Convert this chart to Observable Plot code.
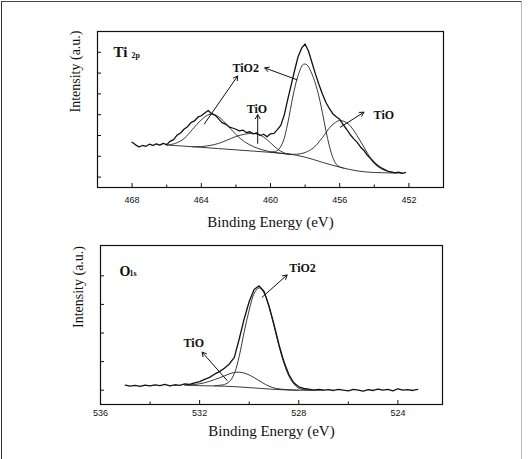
<!DOCTYPE html>
<html><head><meta charset="utf-8">
<script src="https://cdn.jsdelivr.net/npm/d3@7"></script>
<script src="https://cdn.jsdelivr.net/npm/@observablehq/plot@0.6"></script>
<style>
html,body{margin:0;padding:0;background:#fff;}
#page{position:relative;width:530px;height:459px;overflow:hidden;background:#fff;}
#border{position:absolute;left:1px;top:1px;width:519px;height:480px;border-left:1px solid #333;border-top:1px solid #444;border-right:1px solid #bbb;}
#top{position:absolute;left:0;top:0;}
#bot{position:absolute;left:0;top:235px;}
</style></head><body>
<div id="page"><div id="border"></div><div id="top"></div><div id="bot"></div></div>
<script>
// ---------- Ti 2p panel ----------
const tiXTicks = [468, 464, 460, 456, 452];
const tiXMinor = [466, 462, 458, 454];
const tiYTicks = [0.5, 1.5, 2.5, 3.5, 4.5, 5.5, 6.5];
const tiSpectrum = [
[468.0,2.18],[467.8,2.05],[467.6,1.95],[467.4,2.02],[467.2,1.98],[467.0,2.08],[466.8,2.02],[466.6,2.1],
[466.4,2.04],[466.2,2.12],[466.0,2.06],[465.8,2.22],[465.6,2.3],[465.4,2.52],[465.2,2.62],[465.0,2.8],
[464.8,2.92],[464.6,3.12],[464.4,3.2],[464.2,3.38],[464.0,3.45],[463.8,3.58],[463.6,3.7],[463.4,3.55],
[463.2,3.48],[463.0,3.3],[462.8,3.12],[462.6,3.05],[462.4,2.92],[462.2,2.86],[462.0,2.8],[461.8,2.72],
[461.6,2.76],[461.4,2.64],[461.2,2.68],[461.0,2.58],[460.8,2.62],[460.6,2.5],[460.4,2.56],[460.2,2.44],
[460.0,2.58],[459.8,2.6],[459.6,2.78],[459.4,3.0],[459.2,3.5],[459.0,4.25],[458.8,4.95],[458.6,5.65],
[458.4,6.3],[458.2,6.7],[458.0,6.9],[457.8,6.55],[457.6,6.0],[457.4,5.45],[457.2,4.95],[457.0,4.5],
[456.8,4.1],[456.6,3.8],[456.4,3.55],[456.2,3.4],[456.0,3.28],[455.8,3.02],[455.6,2.8],[455.4,2.55],
[455.2,2.35],[455.0,2.18],[454.8,1.95],[454.6,1.78],[454.4,1.55],[454.2,1.38],[454.0,1.2],[453.8,1.06],
[453.6,0.95],[453.4,0.86],[453.2,0.78],[453.0,0.74],[452.8,0.7],[452.6,0.74],[452.4,0.68],[452.2,0.72]
];
const tiBackground = [
[466.0,2.04],[465.0,1.99],[464.0,1.93],[463.0,1.87],[462.0,1.81],[461.0,1.75],[460.0,1.69],[459.0,1.61],
[458.5,1.55],[458.0,1.46],[457.5,1.34],[457.0,1.21],[456.5,1.09],[456.0,0.98],[455.5,0.88],[455.0,0.8],
[454.5,0.75],[454.0,0.72],[453.5,0.71],[453.0,0.7],[452.4,0.7]
];
const tiO2_2p12 = [
[466.0,2.04],[465.5,2.12],[465.0,2.35],[464.5,2.8],[464.0,3.25],[463.5,3.52],[463.0,3.4],[462.5,3.0],
[462.0,2.55],[461.5,2.2],[461.0,1.97],[460.5,1.82],[460.0,1.72],[459.5,1.65],[459.0,1.61]
];
const tiO_2p12 = [
[464.5,1.96],[464.0,1.97],[463.5,2.02],[463.0,2.12],[462.5,2.28],[462.0,2.45],[461.5,2.56],[461.0,2.6],
[460.5,2.48],[460.0,2.15],[459.6,1.85],[459.2,1.66],[458.8,1.58]
];
const tiO2_2p32 = [
[460.0,1.69],[459.6,1.78],[459.3,2.15],[459.0,3.1],[458.7,4.4],[458.4,5.4],[458.1,5.92],[457.9,5.9],
[457.6,5.45],[457.3,4.7],[457.0,3.6],[456.8,2.75],[456.6,2.0],[456.4,1.45],[456.2,1.12],[456.0,0.99],[455.8,0.93]
];
const tiO_2p32 = [
[459.0,1.61],[458.5,1.6],[458.0,1.68],[457.5,1.92],[457.0,2.4],[456.5,2.95],[456.0,3.22],[455.5,3.05],
[455.0,2.5],[454.5,1.8],[454.0,1.15],[453.5,0.86],[453.0,0.74],[452.6,0.71]
];
const tiArrows = [
  {x1: 463.82, y1: 3.06, x2: 461.9, y2: 5.36},
  {x1: 458.47, y1: 5.18, x2: 460.33, y2: 5.75},
  {x1: 460.74, y1: 2.12, x2: 460.74, y2: 3.5},
  {x1: 455.96, y1: 2.9, x2: 454.6, y2: 3.62}
];
const tiLabels = [
  {x: 462.2, y: 5.55, text: "TiO2"},
  {x: 461.38, y: 3.6, text: "TiO"},
  {x: 454.04, y: 3.27, text: "TiO"}
];

// ---------- O 1s panel ----------
const oXTicks = [536, 532, 528, 524];
const oXMinor = [534, 530, 526];
const oYTicks = [0.5, 1.5, 2.5, 3.5, 4.5];
const oSpectrum = [
[535.0,0.68],[534.8,0.64],[534.6,0.67],[534.4,0.63],[534.2,0.68],[534.0,0.65],[533.8,0.69],[533.6,0.66],
[533.4,0.7],[533.2,0.65],[533.0,0.69],[532.8,0.67],[532.6,0.72],[532.4,0.7],[532.2,0.76],[532.0,0.8],
[531.8,0.88],[531.6,0.95],[531.4,1.06],[531.2,1.15],[531.0,1.27],[530.8,1.42],[530.6,1.65],[530.4,2.3],
[530.2,3.0],[530.0,3.6],[529.8,4.02],[529.6,4.15],[529.4,3.95],[529.2,3.45],[529.0,2.8],[528.8,2.1],
[528.6,1.5],[528.4,1.05],[528.2,0.76],[528.0,0.62],[527.8,0.56],[527.6,0.54],[527.4,0.5],[527.2,0.53],
[527.0,0.5],[526.8,0.52],[526.6,0.49],[526.4,0.53],[526.2,0.5],[526.0,0.48],[525.8,0.53],[525.6,0.5],
[525.4,0.47],[525.2,0.52],[525.0,0.49],[524.8,0.54],[524.6,0.5],[524.4,0.53],[524.2,0.48],[524.0,0.55],
[523.8,0.5],[523.6,0.52],[523.4,0.49],[523.2,0.53]
];
const oBackground = [
[532.6,0.68],[532.0,0.66],[531.5,0.65],[531.0,0.64],[530.5,0.62],[530.0,0.59],[529.5,0.56],[529.0,0.53],
[528.5,0.51],[528.0,0.5],[527.5,0.5],[527.0,0.5]
];
const oTiO = [
[532.6,0.68],[532.2,0.7],[531.8,0.76],[531.4,0.87],[531.0,1.0],[530.7,1.1],[530.4,1.13],[530.1,1.07],
[529.8,0.94],[529.5,0.78],[529.2,0.64],[528.9,0.56],[528.5,0.52],[528.0,0.5]
];
const oTiO2 = [
[531.4,0.66],[531.0,0.7],[530.8,0.8],[530.6,1.08],[530.4,1.7],[530.2,2.55],[530.0,3.3],[529.8,3.88],
[529.6,4.08],[529.4,3.9],[529.2,3.4],[529.0,2.75],[528.8,2.05],[528.6,1.45],[528.4,1.0],[528.2,0.72],
[528.0,0.57],[527.8,0.52],[527.5,0.5]
];
const oArrows = [
  {x1: 529.48, y1: 3.75, x2: 528.47, y2: 4.53},
  {x1: 530.89, y1: 0.84, x2: 531.9, y2: 1.83}
];
const oLabels = [
  {x: 528.38, y: 4.65, text: "TiO2"},
  {x: 532.65, y: 2.01, text: "TiO"}
];

const serif = "Liberation Serif, Times New Roman, serif";
const sans = "Liberation Sans, Arial, sans-serif";

function panel({xDomain, yDomain, xTicks, xMinor, yTicks, spectrum, comps, arrows, labels,
                main, sub, tickPad, titleDy, width, height, margins, majorLen, pxPerX}) {
  const pxPerY = (height - margins.top - margins.bottom) / (yDomain[1] - yDomain[0]);
  return Plot.plot({
    width, height,
    marginLeft: margins.left, marginRight: margins.right, marginTop: margins.top, marginBottom: margins.bottom,
    x: {domain: xDomain},
    y: {domain: yDomain, axis: null},
    style: {fontFamily: serif, background: "transparent", overflow: "visible", color: "#111"},
    marks: [
      ...comps.map(c => Plot.line(c, {stroke: "#222", strokeWidth: 0.9, curve: "catmull-rom"})),
      Plot.line(spectrum, {stroke: "#111", strokeWidth: 1.3}),
      Plot.frame({stroke: "#111", strokeWidth: 1.2}),
      Plot.ruleX(xTicks, {x: d => d, y1: yDomain[0], y2: yDomain[0] + majorLen / pxPerY, stroke: "#111", strokeWidth: 1}),
      Plot.ruleX(xMinor, {x: d => d, y1: yDomain[0], y2: yDomain[0] + 2.5 / pxPerY, stroke: "#111", strokeWidth: 1}),
      Plot.ruleY(yTicks, {y: d => d, x1: xDomain[0], x2: xDomain[0] - 4 / pxPerX, stroke: "#111", strokeWidth: 1}),
      Plot.axisX({ticks: xTicks, tickSize: 0, tickPadding: tickPad, fontSize: 9, fontFamily: sans, label: null, tickFormat: d => String(d)}),
      Plot.arrow(arrows, {x1: "x1", y1: "y1", x2: "x2", y2: "y2", stroke: "#111", strokeWidth: 1, headLength: 7}),
      Plot.text(labels, {x: "x", y: "y", text: "text", textAnchor: "start", lineAnchor: "bottom", fontSize: 12, fontWeight: "bold", fontFamily: serif, fill: "#111"}),
      Plot.text([main], {frameAnchor: "top-left", dx: main.dx, dy: main.dy, text: d => d.text, textAnchor: "start", lineAnchor: "bottom", fontSize: main.size, fontWeight: "bold", fontFamily: serif, fill: "#111"}),
      Plot.text([sub], {frameAnchor: "top-left", dx: sub.dx, dy: sub.dy, text: d => d.text, textAnchor: "start", lineAnchor: "bottom", fontSize: 8, fontWeight: "bold", fontFamily: serif, fill: "#111"}),
      Plot.text(["Binding Energy (eV)"], {frameAnchor: "bottom", dy: titleDy, lineAnchor: "bottom", fontSize: 15, fontFamily: serif, fill: "#111"}),
      Plot.text(["Intensity (a.u.)"], {frameAnchor: "left", dx: -22, dy: 3, rotate: -90, fontSize: 14, fontFamily: serif, fill: "#111"})
    ]
  });
}

document.getElementById("top").appendChild(panel({
  xDomain: [470, 450], yDomain: [0, 7.5], xTicks: tiXTicks, xMinor: tiXMinor, yTicks: tiYTicks,
  spectrum: tiSpectrum, comps: [tiBackground, tiO2_2p12, tiO_2p12, tiO2_2p32, tiO_2p32],
  arrows: tiArrows, labels: tiLabels,
  main: {text: "Ti", dx: 16, dy: 25, size: 15}, sub: {text: "2p", dx: 34, dy: 26},
  tickPad: 9, titleDy: 39, width: 530, height: 235,
  margins: {left: 97, right: 87, top: 31, bottom: 48}, majorLen: 4, pxPerX: 346 / 20
}));

document.getElementById("bot").appendChild(panel({
  xDomain: [536, 522.2], yDomain: [0, 5.56], xTicks: oXTicks, xMinor: oXMinor, yTicks: oYTicks,
  spectrum: oSpectrum, comps: [oBackground, oTiO, oTiO2],
  arrows: oArrows, labels: oLabels,
  main: {text: "O", dx: 19, dy: 30, size: 14}, sub: {text: "1s", dx: 29, dy: 30},
  tickPad: 5, titleDy: 31, width: 530, height: 224,
  margins: {left: 100, right: 88, top: 10, bottom: 55}, majorLen: 4, pxPerX: 342 / 13.8
}));
</script>
</body></html>
